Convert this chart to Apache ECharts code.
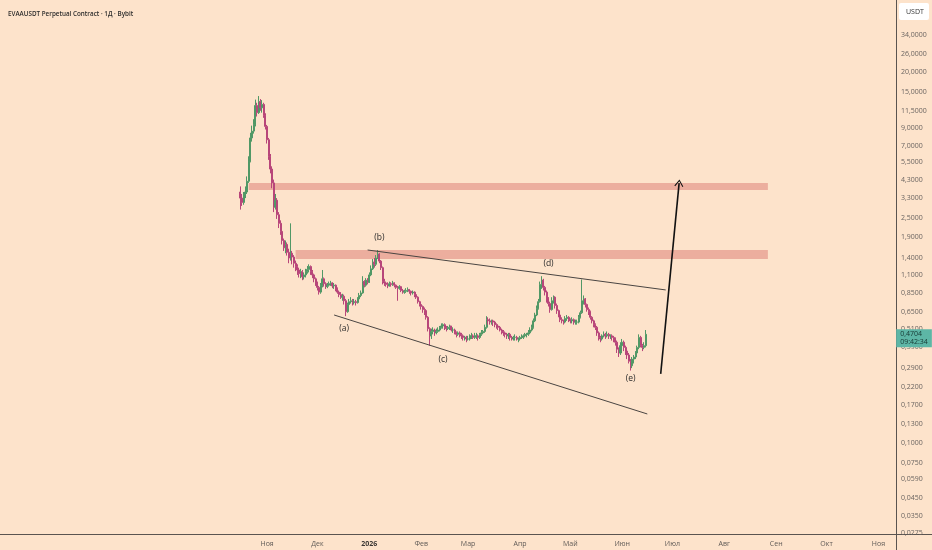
<!DOCTYPE html>
<html>
<head>
<meta charset="utf-8">
<script src="https://cdn.jsdelivr.net/npm/echarts@6/dist/echarts.min.js"></script>
<style>
  html, body { margin: 0; padding: 0; background: #fde3cb; }
  #chart-container { width: 932px; height: 550px; }
</style>
</head>
<body>
<div id="chart-container"></div>
<script>
// daily candles, 2025-10-16 .. 2026-06-15 (open = previous close)
var firstCandle = "2025-10-16";
var firstOpen = 3.6;
var closes = [
  3.30, 3.10, 3.45, 3.60, 4.20, 5.60, 7.80, 8.60, 9.40, 12.40,
  11.20, 13.10, 12.00, 12.60, 10.80, 9.20, 7.60, 6.00, 5.00, 4.10,
  2.90, 3.20, 2.60, 2.30, 2.05, 1.80, 1.62, 1.70, 1.52, 1.40,
  1.50, 1.42, 1.30, 1.24, 1.18, 1.12, 1.15, 1.07, 1.10, 1.16,
  1.19, 1.24, 1.16, 1.10, 1.04, 0.98, 0.92, 0.86, 0.95, 1.04,
  0.97, 0.93, 0.95, 0.97, 0.98, 0.94, 0.95, 0.90, 0.86, 0.83,
  0.80, 0.81, 0.76, 0.65, 0.72, 0.75, 0.76, 0.74, 0.75, 0.74,
  0.78, 0.82, 0.85, 1.00, 0.95, 1.02, 0.99, 1.10, 1.20, 1.32,
  1.28, 1.40, 1.48, 1.34, 1.22, 1.00, 0.98, 0.96, 0.94, 0.97,
  0.96, 0.98, 0.95, 0.92, 0.91, 0.93, 0.88, 0.86, 0.87, 0.88,
  0.89, 0.87, 0.85, 0.86, 0.83, 0.80, 0.75, 0.72, 0.70, 0.67,
  0.66, 0.60, 0.51, 0.46, 0.49, 0.50, 0.48, 0.49, 0.50, 0.52,
  0.53, 0.54, 0.52, 0.51, 0.52, 0.53, 0.50, 0.50, 0.48, 0.47,
  0.48, 0.47, 0.46, 0.45, 0.45, 0.44, 0.44, 0.46, 0.46, 0.45,
  0.46, 0.46, 0.45, 0.47, 0.48, 0.49, 0.52, 0.58, 0.57, 0.56,
  0.57, 0.56, 0.54, 0.53, 0.52, 0.50, 0.49, 0.48, 0.47, 0.46,
  0.47, 0.45, 0.44, 0.45, 0.45, 0.44, 0.44, 0.45, 0.45, 0.46,
  0.47, 0.47, 0.48, 0.50, 0.52, 0.57, 0.62, 0.68, 0.75, 0.96,
  1.02, 0.92, 0.86, 0.78, 0.73, 0.67, 0.76, 0.80, 0.71, 0.66,
  0.62, 0.58, 0.57, 0.56, 0.59, 0.60, 0.58, 0.57, 0.58, 0.56,
  0.56, 0.56, 0.60, 0.64, 0.76, 0.78, 0.72, 0.67, 0.65, 0.60,
  0.57, 0.54, 0.52, 0.48, 0.45, 0.44, 0.46, 0.47, 0.46, 0.47,
  0.46, 0.46, 0.45, 0.44, 0.42, 0.38, 0.36, 0.40, 0.42, 0.39,
  0.37, 0.35, 0.32, 0.30, 0.33, 0.34, 0.36, 0.39, 0.45, 0.40,
  0.39, 0.40, 0.4704
];
var highs = [
  3.90, 3.50, 3.60, 3.90, 4.50, 6.00, 8.40, 9.30, 10.20, 13.50,
  12.90, 14.20, 13.60, 13.40, 12.90, 11.10, 9.40, 7.80, 6.20, 5.20,
  4.30, 3.50, 3.30, 2.70, 2.40, 2.10, 1.85, 1.80, 1.75, 1.60,
  2.30, 1.55, 1.46, 1.35, 1.28, 1.22, 1.20, 1.18, 1.14, 1.20,
  1.25, 1.28, 1.26, 1.18, 1.12, 1.06, 1.00, 0.94, 0.98, 1.18,
  1.06, 0.99, 0.98, 1.00, 1.01, 0.99, 0.98, 0.96, 0.92, 0.88,
  0.86, 0.84, 0.83, 0.78, 0.74, 0.78, 0.80, 0.78, 0.78, 0.77,
  0.80, 0.85, 0.88, 1.08, 1.02, 1.05, 1.05, 1.14, 1.26, 1.38,
  1.40, 1.46, 1.57, 1.50, 1.36, 1.24, 1.04, 1.00, 0.99, 1.00,
  0.99, 1.01, 0.99, 0.96, 0.94, 0.95, 0.94, 0.90, 0.89, 0.91,
  0.92, 0.90, 0.88, 0.88, 0.87, 0.84, 0.81, 0.76, 0.74, 0.71,
  0.69, 0.67, 0.61, 0.52, 0.51, 0.52, 0.51, 0.51, 0.52, 0.53,
  0.55, 0.55, 0.55, 0.53, 0.53, 0.54, 0.53, 0.52, 0.51, 0.49,
  0.49, 0.49, 0.48, 0.47, 0.46, 0.46, 0.46, 0.47, 0.48, 0.47,
  0.48, 0.48, 0.47, 0.48, 0.50, 0.50, 0.54, 0.61, 0.60, 0.59,
  0.58, 0.58, 0.57, 0.55, 0.54, 0.53, 0.51, 0.50, 0.49, 0.48,
  0.48, 0.48, 0.46, 0.46, 0.47, 0.46, 0.45, 0.46, 0.47, 0.47,
  0.48, 0.48, 0.50, 0.52, 0.54, 0.59, 0.64, 0.71, 0.78, 1.00,
  1.08, 1.04, 0.94, 0.88, 0.80, 0.75, 0.80, 0.82, 0.81, 0.73,
  0.67, 0.63, 0.60, 0.58, 0.61, 0.62, 0.61, 0.59, 0.60, 0.59,
  0.58, 0.58, 0.62, 0.66, 1.03, 0.82, 0.79, 0.73, 0.69, 0.66,
  0.61, 0.58, 0.55, 0.53, 0.49, 0.46, 0.47, 0.49, 0.48, 0.49,
  0.48, 0.47, 0.47, 0.46, 0.45, 0.43, 0.39, 0.42, 0.44, 0.43,
  0.40, 0.38, 0.36, 0.33, 0.34, 0.35, 0.37, 0.40, 0.47, 0.46,
  0.41, 0.42, 0.50
];
var lows = [
  2.80, 2.95, 3.00, 3.30, 3.50, 4.10, 5.50, 7.40, 8.30, 9.20,
  10.60, 11.00, 11.50, 11.20, 10.40, 8.80, 7.20, 5.70, 4.70, 3.80,
  2.70, 2.80, 2.45, 2.15, 1.95, 1.70, 1.55, 1.50, 1.45, 1.30,
  1.35, 1.28, 1.22, 1.16, 1.10, 1.06, 1.05, 1.02, 1.03, 1.06,
  1.12, 1.14, 1.10, 1.05, 0.99, 0.94, 0.88, 0.83, 0.84, 0.92,
  0.93, 0.90, 0.91, 0.93, 0.94, 0.91, 0.90, 0.87, 0.84, 0.80,
  0.78, 0.76, 0.72, 0.61, 0.64, 0.70, 0.73, 0.71, 0.72, 0.71,
  0.73, 0.77, 0.80, 0.84, 0.92, 0.93, 0.96, 0.98, 1.08, 1.18,
  1.22, 1.25, 1.38, 1.30, 1.18, 0.96, 0.94, 0.93, 0.91, 0.93,
  0.93, 0.94, 0.92, 0.90, 0.76, 0.89, 0.86, 0.84, 0.84, 0.85,
  0.86, 0.84, 0.82, 0.83, 0.80, 0.78, 0.73, 0.70, 0.67, 0.64,
  0.62, 0.58, 0.49, 0.40, 0.44, 0.47, 0.46, 0.47, 0.48, 0.49,
  0.51, 0.51, 0.50, 0.49, 0.50, 0.50, 0.49, 0.48, 0.47, 0.45,
  0.46, 0.45, 0.44, 0.43, 0.43, 0.42, 0.43, 0.43, 0.44, 0.44,
  0.44, 0.44, 0.43, 0.44, 0.46, 0.47, 0.48, 0.51, 0.54, 0.54,
  0.54, 0.53, 0.52, 0.51, 0.50, 0.49, 0.47, 0.46, 0.45, 0.44,
  0.44, 0.43, 0.43, 0.43, 0.43, 0.43, 0.42, 0.43, 0.44, 0.44,
  0.45, 0.45, 0.46, 0.47, 0.49, 0.51, 0.56, 0.61, 0.67, 0.74,
  0.90, 0.88, 0.82, 0.74, 0.70, 0.64, 0.66, 0.73, 0.68, 0.63,
  0.60, 0.56, 0.55, 0.54, 0.55, 0.57, 0.56, 0.55, 0.55, 0.54,
  0.54, 0.54, 0.55, 0.59, 0.63, 0.72, 0.69, 0.65, 0.62, 0.58,
  0.55, 0.52, 0.50, 0.46, 0.43, 0.42, 0.43, 0.45, 0.44, 0.45,
  0.44, 0.44, 0.43, 0.42, 0.40, 0.36, 0.34, 0.35, 0.39, 0.37,
  0.35, 0.33, 0.31, 0.28, 0.29, 0.31, 0.33, 0.35, 0.38, 0.39,
  0.37, 0.38, 0.39
];

// price scale labels (right axis) and time axis
var priceTicks = [34, 26, 20, 15, 11.5, 9, 7, 5.5, 4.3, 3.3, 2.5, 1.9, 1.4, 1.1,
  0.85, 0.65, 0.51, 0.39, 0.29, 0.22, 0.17, 0.13, 0.10, 0.075, 0.059, 0.045, 0.035, 0.0275];
var monthLabels = ["Янв", "Фев", "Мар", "Апр", "Май", "Июн", "Июл", "Авг", "Сен", "Окт", "Ноя", "Дек"];
var firstMonthLabel = "2025-11-01";
var lastTime = "09:42:34";

// drawings
var zones = [
  { from: "2025-10-21", to: "2026-08-27", low: 3.71, high: 4.09 },
  { from: "2025-11-18", to: "2026-08-27", low: 1.38, high: 1.57 }
];
var trendLines = [
  { from: ["2025-12-31", 1.571], to: ["2026-06-27", 0.887] },
  { from: ["2025-12-11", 0.620], to: ["2026-06-16", 0.1505] }
];
var projection = { from: ["2026-06-24", 0.267], to: ["2026-07-05", 4.09] };
var waveLabels = [
  { text: "(a)", at: ["2025-12-17", 0.5075] },
  { text: "(b)", at: ["2026-01-07", 1.865] },
  { text: "(c)", at: ["2026-02-14", 0.326] },
  { text: "(d)", at: ["2026-04-18", 1.286] },
  { text: "(e)", at: ["2026-06-06", 0.248] }
];

// day categories covering the visible time range
var startDay = Date.UTC(2025, 4, 26);
var dayCount = 535;
var categories = [];
for (var k = 0; k < dayCount; k++) {
  categories.push(new Date(startDay + k * 86400000).toISOString().slice(0, 10));
}
var offset = categories.indexOf(firstCandle);
var candles = [];
for (var k = 0; k < offset; k++) candles.push("-");
for (var i = 0; i < closes.length; i++) {
  var open = i === 0 ? firstOpen : closes[i - 1];
  candles.push([open, closes[i], lows[i], highs[i]]);
}
var lastClose = closes[closes.length - 1];
var lastDate = categories[offset + closes.length - 1];

function fmtPrice(v) {
  return (+v).toFixed(4).replace(".", ",");
}

var dom = document.getElementById("chart-container");
var myChart = echarts.init(dom, null, { renderer: "canvas" });

var option = {
  backgroundColor: "#fde3cb",
  animation: false,
  textStyle: { fontFamily: "Open Sans" },
  title: {
    text: "EVAAUSDT Perpetual Contract · 1Д · Bybit",
    left: 3,
    top: 6,
    textStyle: { fontSize: 6.3, fontWeight: 600, color: "#2b2b2b", fontFamily: "Open Sans" }
  },
  grid: { left: 0, right: 36, top: 0, bottom: 16 },
  xAxis: {
    type: "category",
    data: categories,
    boundaryGap: true,
    axisLine: { lineStyle: { color: "#5a5450", width: 1 } },
    axisTick: { show: false },
    splitLine: { show: false },
    axisLabel: {
      interval: function (index, value) {
        return value >= firstMonthLabel && value.slice(8) === "01";
      },
      formatter: function (value) {
        var m = +value.slice(5, 7);
        return m === 1 ? "{y|" + value.slice(0, 4) + "}" : monthLabels[m - 1];
      },
      color: "#5f5a56",
      fontSize: 7,
      margin: 6,
      rich: { y: { fontWeight: "bold", fontSize: 7, color: "#3a3633" } }
    }
  },
  yAxis: {
    type: "log",
    position: "right",
    min: 0.02704,
    max: 56.1,
    axisLine: { show: true, lineStyle: { color: "#5a5450", width: 1 } },
    axisTick: { show: false },
    splitLine: { show: false },
    axisLabel: {
      customValues: priceTicks,
      formatter: fmtPrice,
      color: "#6a6460",
      fontSize: 7,
      margin: 5
    }
  },
  graphic: [
    { type: "line", shape: { x1: 896.5, y1: 534, x2: 896.5, y2: 550 }, style: { stroke: "#5a5450", lineWidth: 1 } },
    { type: "line", shape: { x1: 896, y1: 534.5, x2: 932, y2: 534.5 }, style: { stroke: "#5a5450", lineWidth: 1 } },
    {
      type: "rect", shape: { x: 899, y: 3, width: 30, height: 17, r: 2 },
      style: { fill: "#ffffff" }
    },
    {
      type: "text", x: 906, y: 8,
      style: { text: "USDT", fontSize: 7, fill: "#333333", fontFamily: "Open Sans" }
    }
  ],
  series: [
    {
      type: "candlestick",
      data: candles,
      clip: false,
      barWidth: "90%",
      itemStyle: {
        color: "#519866",
        color0: "#b8467a",
        borderColor: "#519866",
        borderColor0: "#b8467a",
        borderWidth: 1
      },
      markArea: {
        silent: true,
        itemStyle: { color: "rgba(214,108,104,0.45)" },
        data: zones.map(function (z) {
          return [{ coord: [z.from, z.high] }, { coord: [z.to, z.low] }];
        })
      },
      markLine: {
        silent: true,
        symbol: ["none", "none"],
        lineStyle: { color: "#4a4542", width: 1, type: "solid" },
        label: { show: false },
        data: trendLines.map(function (t) {
          return [{ coord: t.from }, { coord: t.to }];
        }).concat([
          [
            { coord: projection.from, lineStyle: { color: "#111111", width: 1.6 } },
            {
              coord: projection.to,
              symbol: "path://M5,0 L10,9 L9,9.8 L5,2.2 L1,9.8 L0,9 Z",
              symbolSize: [9, 7]
            }
          ],
          [
            {
              coord: [lastDate, lastClose],
              lineStyle: { color: "rgba(0,0,0,0)", width: 1 },
              label: {
                show: true,
                position: "end",
                distance: 1,
                formatter: fmtPrice(lastClose) + "\n" + lastTime,
                backgroundColor: "#5db6a6",
                color: "#163833",
                fontSize: 7,
                lineHeight: 8,
                padding: [1, 4, 1, 4],
                offset: [0, 4]
              }
            },
            { coord: [categories[dayCount - 1], lastClose] }
          ]
        ])
      },
      markPoint: {
        silent: true,
        symbol: "circle",
        symbolSize: 1,
        itemStyle: { color: "rgba(0,0,0,0)" },
        label: {
          show: true,
          position: "inside",
          color: "#2a2a2a",
          fontSize: 8.5,
          fontFamily: "Open Sans"
        },
        data: waveLabels.map(function (w) {
          return { coord: w.at, label: { formatter: w.text } };
        })
      }
    }
  ]
};

if (option && typeof option === "object") {
  myChart.setOption(option);
}

window.addEventListener("resize", myChart.resize);
</script>
</body>
</html>
